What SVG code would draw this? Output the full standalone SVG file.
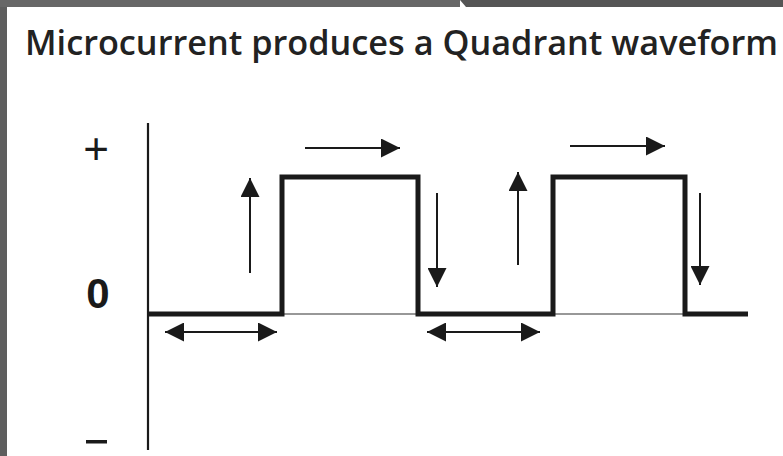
<svg xmlns="http://www.w3.org/2000/svg" width="783" height="456" viewBox="0 0 783 456">
<defs>
<marker id="ah" viewBox="0 0 10 10" refX="10" refY="5" markerWidth="19" markerHeight="19" markerUnits="userSpaceOnUse" orient="auto-start-reverse">
<path d="M0,0 L10,5 L0,10 Z" fill="#1a1a1a"/>
</marker>
<style>
.arr{stroke:#1a1a1a;stroke-width:2;fill:none;marker-end:url(#ah)}
.dbl{stroke:#1a1a1a;stroke-width:2;fill:none;marker-end:url(#ah);marker-start:url(#ah)}
.wave{stroke:#1a1a1a;stroke-width:5;fill:none;stroke-linejoin:miter}
.thin{stroke:#333;stroke-width:1.2;fill:none}
.lbl{font-family:"Liberation Sans",Arial,sans-serif;fill:#1a1a1a}
</style>
</defs>
<rect width="783" height="456" fill="#ffffff"/>
<rect x="0" y="0" width="7" height="456" fill="#5e5e5e"/>
<polygon points="0,0 460,0 460,7 0,7" fill="#676767"/>
<polygon points="460,0 783,0 783,7 466,7" fill="#555555"/>
<text x="25" y="55" font-family="'Open Sans','Noto Sans',sans-serif" font-weight="600" font-size="34" fill="#222" textLength="753" lengthAdjust="spacingAndGlyphs">Microcurrent produces a Quadrant waveform</text>
<g id="axis">
<line x1="148" y1="123" x2="148" y2="450" stroke="#1a1a1a" stroke-width="2.2"/>
<text class="lbl" x="96" y="164" font-size="44" text-anchor="middle">+</text>
<text class="lbl" x="98" y="308" font-size="42" font-weight="bold" text-anchor="middle">0</text>
<rect x="86" y="440" width="21" height="3.5" fill="#1a1a1a"/>
</g>
<g id="waveform">
<line class="thin" x1="148" y1="314" x2="748" y2="314"/>
<polyline class="wave" points="148,314 282,314 282,177 418,177 418,314 553,314 553,177 685,177 685,314 748,314"/>
</g>
<g id="connectors">
<line class="arr" x1="250" y1="273" x2="250" y2="178"/>
<line class="arr" x1="305" y1="148" x2="400" y2="148"/>
<line class="arr" x1="437" y1="193" x2="437" y2="287"/>
<line class="arr" x1="518" y1="265" x2="518" y2="172"/>
<line class="arr" x1="570" y1="146" x2="665" y2="146"/>
<line class="arr" x1="700" y1="193" x2="700" y2="285"/>
<line class="dbl" x1="165" y1="332" x2="277" y2="332"/>
<line class="dbl" x1="427" y1="332" x2="540" y2="332"/>
</g>
</svg>
